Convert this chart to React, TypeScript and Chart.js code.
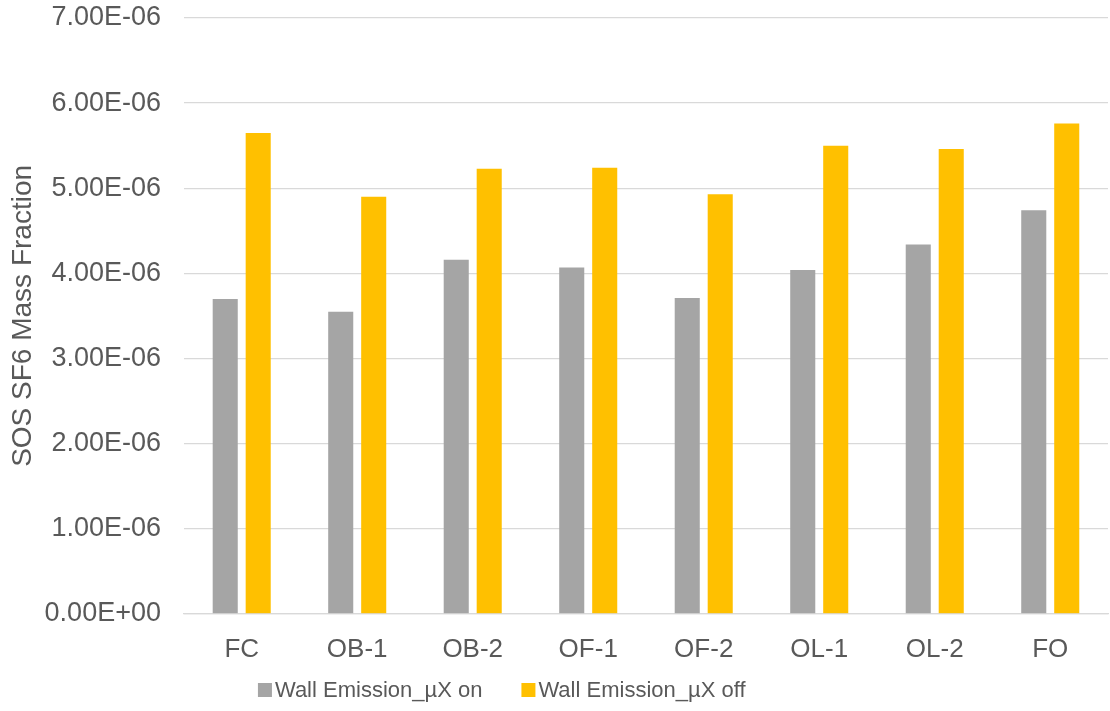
import React, { useEffect, useRef } from "react";
import { Chart, registerables } from "chart.js";

Chart.register(...registerables);

const categories = ["FC", "OB-1", "OB-2", "OF-1", "OF-2", "OL-1", "OL-2", "FO"];
const seriesNames = ["Wall Emission_µX on", "Wall Emission_µX off"];
const valuesOn = [3.70e-6, 3.55e-6, 4.16e-6, 4.07e-6, 3.71e-6, 4.04e-6, 4.34e-6, 4.74e-6];
const valuesOff = [5.65e-6, 4.90e-6, 5.23e-6, 5.24e-6, 4.93e-6, 5.50e-6, 5.46e-6, 5.76e-6];
const yAxisTitle = "SOS SF6 Mass Fraction";
const yMin = 0;
const yMax = 7e-6;
const yStep = 1e-6;

const FONT = '"Liberation Sans", Arial, sans-serif';
const TEXT = "#595959";
const GRID = "#D9D9D9";
const COLORS = ["#A5A5A5", "#FFC000"];

function fmtExp(v: number): string {
  if (v === 0) return "0.00E+00";
  const s = v.toExponential(2);
  const [m, e] = s.split("e");
  const n = parseInt(e, 10);
  const sign = n < 0 ? "-" : "+";
  const abs = Math.abs(n);
  return m + "E" + sign + (abs < 10 ? "0" + abs : String(abs));
}

const customLegend = {
  id: "customLegend",
  afterDraw(chart: any) {
    const ctx = chart.ctx;
    const ds = chart.data.datasets;
    const fontSize = 22;
    const box = 14;
    const gap = 3;
    const itemGap = 39;
    ctx.save();
    ctx.font = `${fontSize}px ${FONT}`;
    const widths = ds.map((d: any) => box + gap + ctx.measureText(d.label).width);
    const total = widths.reduce((a: number, b: number) => a + b, 0) + itemGap * (ds.length - 1);
    const cx = chart.width * 0.452;
    const cy = chart.height - 21;
    let x = cx - total / 2;
    ds.forEach((d: any, i: number) => {
      ctx.fillStyle = d.backgroundColor;
      ctx.fillRect(x, cy - box / 2, box, box);
      ctx.fillStyle = TEXT;
      ctx.textBaseline = "middle";
      ctx.textAlign = "left";
      ctx.fillText(d.label, x + box + gap, cy + 1);
      x += widths[i] + itemGap;
    });
    ctx.restore();
  },
};

export default function App() {
  const ref = useRef<HTMLCanvasElement | null>(null);
  useEffect(() => {
    if (!ref.current) return;
    const chart = new Chart(ref.current, {
      type: "bar",
      data: {
        labels: categories,
        datasets: [
          { label: seriesNames[0], data: valuesOn, backgroundColor: COLORS[0] },
          { label: seriesNames[1], data: valuesOff, backgroundColor: COLORS[1] },
        ],
      },
      options: {
        animation: false,
        responsive: true,
        maintainAspectRatio: false,
        datasets: { bar: { categoryPercentage: 0.571, barPercentage: 0.76 } },
        layout: { padding: { top: 18, left: 6, right: 2, bottom: 26 } },
        plugins: {
          legend: { display: false },
          tooltip: { enabled: false },
        },
        scales: {
          x: {
            grid: { display: false, drawTicks: false },
            border: { display: true, color: GRID, width: 1.3 },
            ticks: { color: TEXT, font: { family: FONT, size: 26 }, padding: 20 },
          },
          y: {
            min: yMin,
            max: yMax,
            grid: {
              color: GRID,
              lineWidth: 1.3,
              drawTicks: true,
              tickLength: 23,
              tickColor: "rgba(0,0,0,0)",
            },
            border: { display: false },
            ticks: {
              stepSize: yStep,
              color: TEXT,
              font: { family: FONT, size: 27 },
              padding: 0,
              callback: (v: any) => fmtExp(Number(v)),
            },
            title: {
              display: true,
              text: yAxisTitle,
              color: TEXT,
              font: { family: FONT, size: 28 },
              padding: { top: 0, bottom: 5 },
            },
          },
        },
      },
      plugins: [customLegend],
    });
    return () => chart.destroy();
  }, []);
  return (
    <div style={{ position: "fixed", left: 0, top: 0, width: 1110, height: 711, background: "#fff" }}>
      <canvas ref={ref} />
    </div>
  );
}
